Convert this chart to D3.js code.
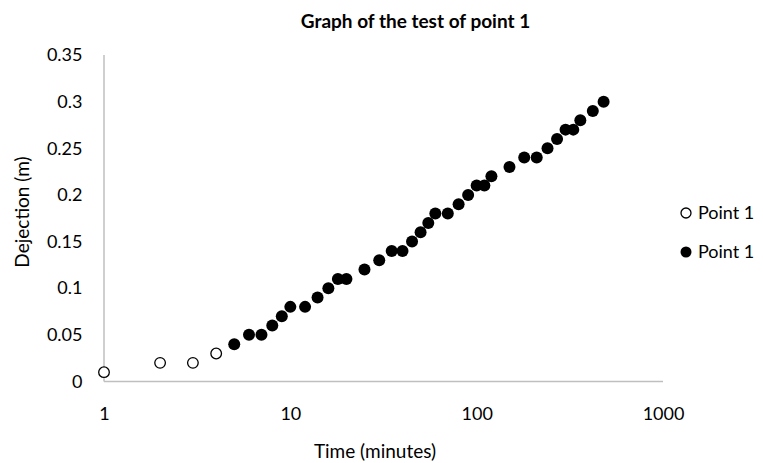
<!DOCTYPE html>
<html><head><meta charset="utf-8">
<script src="https://cdn.jsdelivr.net/npm/d3@7/dist/d3.min.js"></script>
<style>body{margin:0;background:#fff}svg{display:block}text{font-family:Lato,"Open Sans",sans-serif;fill:#000}</style>
</head><body><svg id="c" width="763" height="463"></svg>
<script>
const openTime = [1, 2, 3, 4];
const openDejection = [0.01, 0.02, 0.02, 0.03];
const filledTime = [5, 6, 7, 8, 9, 10, 12, 14, 16, 18, 20, 25, 30, 35, 40, 45, 50, 55, 60, 70, 80, 90, 100, 110, 120, 150, 180, 210, 240, 270, 300, 330, 360, 420, 480];
const filledDejection = [0.04, 0.05, 0.05, 0.06, 0.07, 0.08, 0.08, 0.09, 0.10, 0.11, 0.11, 0.12, 0.13, 0.14, 0.14, 0.15, 0.16, 0.17, 0.18, 0.18, 0.19, 0.20, 0.21, 0.21, 0.22, 0.23, 0.24, 0.24, 0.25, 0.26, 0.27, 0.27, 0.28, 0.29, 0.30];
const xTicks = [1, 10, 100, 1000];
const yTicks = [0, 0.05, 0.1, 0.15, 0.2, 0.25, 0.3, 0.35];
const legendLabels = ["Point 1", "Point 1"];

const svg = d3.select("#c");
const x = d3.scaleLog().domain([1, 1000]).range([104, 663]);
const y = d3.scaleLinear().domain([0, 0.35]).range([381.5, 55]);

svg.append("text").attr("x", 415.5).attr("y", 27.5).attr("text-anchor", "middle")
  .attr("font-weight", "bold").attr("font-size", 19).text("Graph of the test of point 1");

svg.append("line").attr("x1", x(1)).attr("x2", x(1)).attr("y1", y(0.35)).attr("y2", y(0))
  .attr("stroke", "#bfbfbf").attr("stroke-width", 1.5);
svg.append("line").attr("x1", x(1)).attr("x2", x(1000)).attr("y1", y(0)).attr("y2", y(0))
  .attr("stroke", "#bfbfbf").attr("stroke-width", 1.5);

const yAxis = d3.axisLeft(y).tickValues(yTicks).tickSize(0).tickPadding(21.5)
  .tickFormat(d => String(+d.toFixed(2)));
const gy = svg.append("g").attr("transform", `translate(${x(1)},0)`).call(yAxis);
gy.select(".domain").remove();
gy.attr("font-size", 18).attr("font-family", null);
gy.selectAll("text").style("font-family", "Lato, 'Open Sans', sans-serif").attr("font-size", 18);

const xAxis = d3.axisBottom(x).tickValues(xTicks).tickSize(0).tickPadding(26).tickFormat(d3.format("d"));
const gx = svg.append("g").attr("transform", `translate(0,${y(0)})`).call(xAxis);
gx.select(".domain").remove();
gx.attr("font-size", 18).attr("font-family", null);
gx.selectAll("text").style("font-family", "Lato, 'Open Sans', sans-serif").attr("font-size", 18);

svg.append("text").attr("x", 375).attr("y", 458).attr("text-anchor", "middle").attr("font-size", 19).text("Time (minutes)");
svg.append("text").attr("transform", "translate(29,212) rotate(-90)").attr("text-anchor", "middle").attr("font-size", 19).text("Dejection (m)");

svg.append("g").selectAll("circle").data(openTime.map((t, i) => [t, openDejection[i]])).join("circle")
  .attr("cx", d => x(d[0])).attr("cy", d => y(d[1])).attr("r", 5.3)
  .attr("fill", "#fff").attr("stroke", "#000").attr("stroke-width", 1.3);
svg.append("g").selectAll("circle").data(filledTime.map((t, i) => [t, filledDejection[i]])).join("circle")
  .attr("cx", d => x(d[0])).attr("cy", d => y(d[1])).attr("r", 6)
  .attr("fill", "#000");

const lg = svg.append("g");
lg.append("circle").attr("cx", 686).attr("cy", 213).attr("r", 5).attr("fill", "#fff").attr("stroke", "#000").attr("stroke-width", 1.3);
lg.append("circle").attr("cx", 686).attr("cy", 252).attr("r", 5.5).attr("fill", "#000");
lg.selectAll("text").data(legendLabels).join("text").attr("x", 698).attr("y", (d, i) => 213 + i * 39)
  .attr("dy", "0.35em").attr("font-size", 18).text(d => d);
</script></body></html>
